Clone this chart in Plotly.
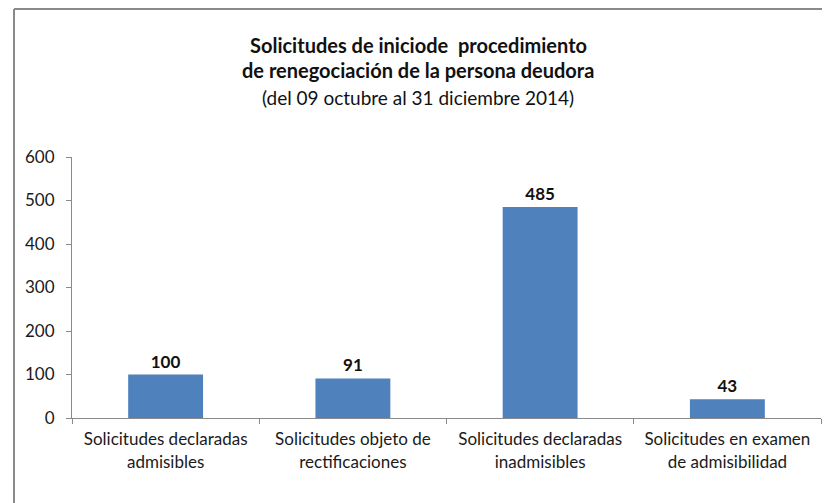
import plotly.graph_objects as go

categories = [
    "Solicitudes declaradas<br>admisibles",
    "Solicitudes objeto de<br>rectificaciones",
    "Solicitudes declaradas<br>inadmisibles",
    "Solicitudes en examen<br>de admisibilidad",
]
values = [100, 91, 485, 43]
y_ticks = [0, 100, 200, 300, 400, 500, 600]
title_lines = [
    "<b>Solicitudes de iniciode  procedimiento</b>",
    "<b>de renegociación de la persona deudora</b>",
    "(del 09 octubre al 31 diciembre 2014)",
]

# The page body has an 8px default margin; work in page pixels and shift.
OFF = 8
W, H = 830 - OFF, 503 - OFF
L, R, T, B = 72 - OFF, 821 - OFF, 157 - OFF, 418 - OFF

fig = go.Figure(go.Bar(
    x=categories, y=values,
    marker=dict(color="#4F81BD", line=dict(width=0)),
    text=[str(v) for v in values],
    texttemplate="<b>%{text}</b>",
    textposition="outside",
    textfont=dict(size=17, color="#111111", family="Lato"),
    cliponaxis=False,
    width=0.4,
))

def px2x(px):
    return (px - OFF - L) / (R - L)

def px2y(py):
    return (B - (py - OFF)) / (B - T)

annotations = []
for line, yy, sz in zip(title_lines, [45, 70, 97], [20, 20, 19]):
    annotations.append(dict(
        text=line, xref="paper", yref="paper", x=px2x(418), y=px2y(yy),
        xanchor="center", yanchor="middle", showarrow=False,
        font=dict(size=sz, color="#111111", family="Lato"),
    ))

shapes = [
    dict(type="line", xref="paper", yref="paper",
         x0=px2x(14), x1=px2x(840), y0=px2y(9), y1=px2y(9),
         line=dict(color="#8a8a8a", width=2)),
    dict(type="line", xref="paper", yref="paper",
         x0=px2x(14), x1=px2x(14), y0=px2y(9), y1=px2y(510),
         line=dict(color="#8a8a8a", width=2)),
]

fig.update_layout(
    width=W, height=H,
    margin=dict(l=L, r=W - R, t=T, b=H - B, autoexpand=False),
    paper_bgcolor="white", plot_bgcolor="white",
    font=dict(family="Lato", size=17, color="#1a1a1a"),
    showlegend=False,
    annotations=annotations,
    shapes=shapes,
    bargap=0.6,
)
fig.update_yaxes(
    range=[0, 600], tickvals=y_ticks, showgrid=False, zeroline=False,
    showline=True, linecolor="#8a8a8a", linewidth=1,
    ticks="outside", ticklen=5, tickcolor="#8a8a8a",
    ticklabelstandoff=8,
    tickfont=dict(size=17, color="#1a1a1a"),
)
fig.update_xaxes(
    showgrid=False, showline=True, linecolor="#8a8a8a", linewidth=1,
    ticks="outside", ticklen=5, tickcolor="#8a8a8a", tickson="boundaries",
    ticklabelstandoff=6,
    tickfont=dict(size=17, color="#1a1a1a"),
)

fig.write_html("out.html")
